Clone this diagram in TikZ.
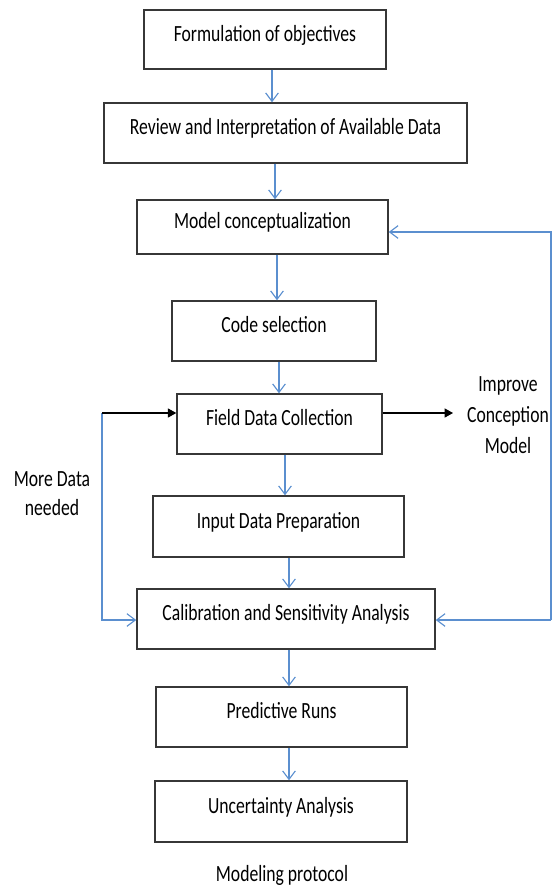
\documentclass[tikz,border=0pt]{standalone}
\usepackage{fontspec}
\setmainfont[FakeStretch=0.76]{Carlito}
\usepackage{tikz}
\usetikzlibrary{arrows.meta, calc}
\definecolor{flowblue}{RGB}{91,143,207}
\definecolor{boxgray}{RGB}{55,55,55}

\begin{document}
\begin{tikzpicture}[x=0.025cm, y=-0.025cm,
    every node/.style={font=\fontsize{16.5}{18}\selectfont},
    stagebox/.style={draw=boxgray, line width=1pt, text height=10pt, text depth=7.5pt, inner sep=0pt},
    flow/.style={flowblue, line width=0.8pt, -{Straight Barb[length=6pt, width=9pt]}},
    push/.style={black, line width=0.8pt, -{Triangle[length=6pt, width=6.5pt]}}]
    \useasboundingbox (0,0) rectangle (552,888);

    % Stages
    \node[stagebox, minimum width=6.05cm, minimum height=1.475cm] (form) at (265,39.5) {Formulation of objectives};
    \node[stagebox, minimum width=9.075cm, minimum height=1.5cm] (review) at (285.5,133) {Review and Interpretation of Available Data};
    \node[stagebox, minimum width=6.275cm, minimum height=1.35cm] (concept) at (262.5,227) {Model conceptualization};
    \node[stagebox, minimum width=5.1cm, minimum height=1.5cm] (code) at (274,331) {Code selection};
    \node[stagebox, minimum width=5.125cm, minimum height=1.5cm] (field) at (279.5,424) {Field Data Collection};
    \node[stagebox, minimum width=6.275cm, minimum height=1.525cm] (input) at (278.5,526.5) {Input Data Preparation};
    \node[stagebox, minimum width=7.45cm, minimum height=1.5cm] (calib) at (286,619) {Calibration and Sensitivity Analysis};
    \node[stagebox, minimum width=6.275cm, minimum height=1.5cm] (predict) at (281.5,717) {Predictive Runs};
    \node[stagebox, minimum width=6.3cm, minimum height=1.525cm] (uncert) at (281,811.5) {Uncertainty Analysis};

    % Main flow
    \foreach \a/\b/\xx in {form/review/272, review/concept/275, concept/code/277, code/field/279,
                           field/input/285, input/calib/289, calib/predict/289, predict/uncert/289} {
        \draw[flow] (\a.south -| \xx,0) -- (\b.north -| \xx,0);
    }

    % Feedback loops
    \coordinate (r1) at (551,232);
    \coordinate (r2) at (551,620);
    \coordinate (l1) at (102,413);
    \coordinate (l2) at (102,620);
    \draw[flow] (r2) -- (r1) -- (concept.east |- r1);
    \draw[flow] (r2) -- (calib.east |- r2);
    \draw[flow] (l1) -- (l2) -- (calib.west |- l2);
    \draw[push] (l1) -- (field.west |- l1);

    \node[align=center, font=\fontsize{16.5}{22}\selectfont] (improve) at (508,415) {Improve\\Conception\\Model};
    \coordinate (imp) at (453,413);
    \draw[push] (field.east |- l1) -- (imp);

    \node[align=center, font=\fontsize{16.5}{20.5}\selectfont] (more) at (52,494) {More Data\\needed};

    % Caption
    \node (caption) at (282,875) {Modeling protocol};
\end{tikzpicture}
\end{document}
